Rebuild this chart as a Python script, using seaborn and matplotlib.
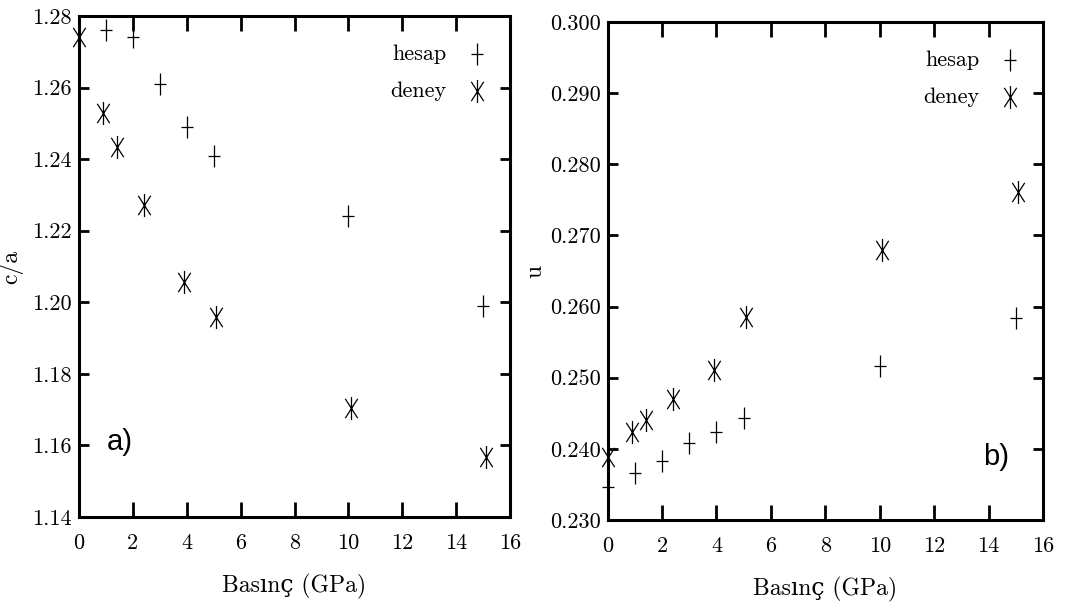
import matplotlib
matplotlib.use("Agg")
import matplotlib.pyplot as plt
from matplotlib.path import Path
import seaborn as sns
import pandas as pd

# ---- data ----
p_hesap_a = [1, 2, 3, 4, 5, 10, 15]
ca_hesap = [1.276, 1.274, 1.261, 1.249, 1.241, 1.224, 1.199]
p_deney = [0, 0.9, 1.4, 2.4, 3.9, 5.1, 10.1, 15.1]
ca_deney = [1.274, 1.253, 1.2434, 1.2272, 1.2057, 1.196, 1.1705, 1.1568]

p_hesap_b = [0, 1, 2, 3, 4, 5, 10, 15]
u_hesap = [0.2347, 0.2366, 0.2383, 0.2408, 0.2424, 0.2443, 0.2517, 0.2584]
u_deney = [0.2389, 0.2424, 0.2441, 0.2470, 0.2511, 0.2585, 0.2680, 0.2761]

xticks = [0, 2, 4, 6, 8, 10, 12, 14, 16]
yticks_a = [1.14, 1.16, 1.18, 1.20, 1.22, 1.24, 1.26, 1.28]
yticks_b = [0.230, 0.240, 0.250, 0.260, 0.270, 0.280, 0.290, 0.300]
xlabel = "Basınç (GPa)"

sns.set_theme(style="white")
plt.rcParams['font.family'] = ['cmr10', 'DejaVu Serif']
plt.rcParams['axes.formatter.use_mathtext'] = True
plt.rcParams['mathtext.fontset'] = 'cm'
plt.rcParams['text.color'] = 'black'
plt.rcParams['axes.labelcolor'] = 'black'

# tall markers (the reference is vertically stretched)
M, L = Path.MOVETO, Path.LINETO
plus_tall = Path([(-0.26, 0), (0.26, 0), (0, -0.5), (0, 0.5)], [M, L, M, L])
star_tall = Path([(0, -0.5), (0, 0.5), (-0.27, -0.42), (0.27, 0.42),
                  (-0.27, 0.42), (0.27, -0.42)], [M, L, M, L, M, L])

fig = plt.figure(figsize=(10.74, 6.10), dpi=100)
axA = fig.add_axes([0.0736, 0.1525, 0.4013, 0.8213])
axB = fig.add_axes([0.5658, 0.1475, 0.4053, 0.8164])

def style(ax, yticks, fmt, ylabel, ylab_x):
    ax.set_xlim(0, 16)
    ax.set_ylim(yticks[0], yticks[-1])
    ax.set_xticks(xticks)
    ax.set_xticklabels([str(t) for t in xticks])
    ax.set_yticks(yticks)
    ax.set_yticklabels([fmt.format(t) for t in yticks])
    for s in ax.spines.values():
        s.set_linewidth(2.2)
        s.set_color('black')
        s.set_visible(True)
    ax.tick_params(axis='x', direction='in', length=11, width=2, top=True,
                   bottom=True, labelsize=16, pad=12, colors='black')
    ax.tick_params(axis='y', direction='in', length=7, width=2, left=True,
                   right=True, labelsize=16, pad=5, colors='black')
    ax.set_xlabel(xlabel, fontsize=17, labelpad=15)
    ax.set_ylabel(ylabel, fontsize=17)
    ax.yaxis.set_label_coords(ylab_x, 0.5)
    ax.grid(False)

def draw(ax, ph, vh, pd_, vd):
    dfh = pd.DataFrame({"p": ph, "v": vh})
    dfd = pd.DataFrame({"p": pd_, "v": vd})
    sns.scatterplot(data=dfh, x="p", y="v", ax=ax, marker=plus_tall, s=245,
                    color='black', edgecolor='black', linewidth=0.9,
                    label='hesap', clip_on=False, zorder=3)
    sns.scatterplot(data=dfd, x="p", y="v", ax=ax, marker=star_tall, s=275,
                    color='black', edgecolor='black', linewidth=0.9,
                    label='deney', clip_on=False, zorder=3)

draw(axA, p_hesap_a, ca_hesap, p_deney, ca_deney)
style(axA, yticks_a, "{:.2f}", "c/a", -0.13)
axA.text(1.5, 1.161, "a)", fontsize=21, family=['Liberation Sans', 'DejaVu Sans'],
         ha='center', va='center')

draw(axB, p_hesap_b, u_hesap, p_deney, u_deney)
style(axB, yticks_b, "{:.3f}", "u", -0.14)
axB.text(14.27, 0.2389, "b)", fontsize=21, family=['Liberation Sans', 'DejaVu Sans'],
         ha='center', va='center')

for ax in (axA, axB):
    ax.legend(loc='upper right', bbox_to_anchor=(0.99, 0.975), frameon=False,
              markerfirst=False, fontsize=16, labelspacing=0.8, handlelength=1.2,
              handletextpad=0.75, borderaxespad=0.3)

fig.savefig("out.png", dpi=100)
